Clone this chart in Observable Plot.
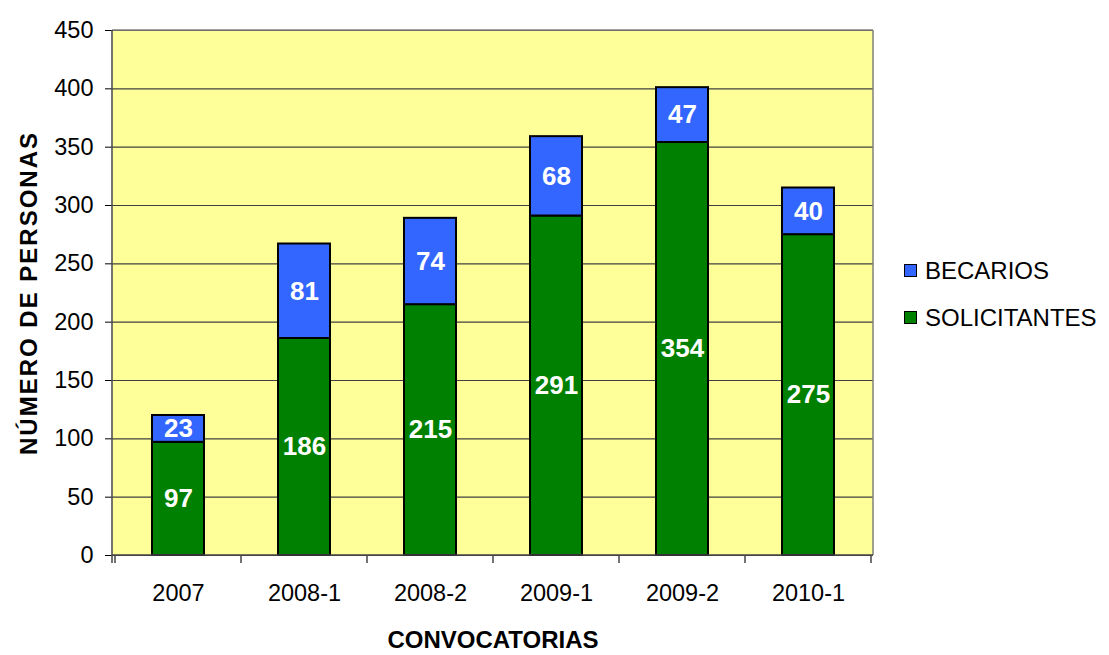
<!DOCTYPE html>
<html>
<head>
<meta charset="utf-8">
<script src="https://cdn.jsdelivr.net/npm/d3@7"></script>
<script src="https://cdn.jsdelivr.net/npm/@observablehq/plot@0.6"></script>
<style>
  body { margin: 0; background: #fff; font-family: "Liberation Sans", Arial, sans-serif; }
  #wrap { position: relative; width: 1109px; height: 655px; }
  #wrap svg g[aria-label^="x-axis"] text, #wrap svg g[aria-label^="y-axis"] text { font-size: 23.5px !important; fill: #000; }
  #legend { position: absolute; left: 904px; top: 247px; font-size: 24px; color: #000; }
  #legend div { display: flex; align-items: center; height: 47px; }
  #legend span.sw { display: inline-block; width: 11px; height: 11px; border: 1.5px solid #000; margin-right: 8px; }
</style>
</head>
<body>
<div id="wrap"><div id="legend"></div></div>
<script>
const categories = ["2007", "2008-1", "2008-2", "2009-1", "2009-2", "2010-1"];
const solicitantes = [97, 186, 215, 291, 354, 275];
const becarios = [23, 81, 74, 68, 47, 40];
const seriesNames = ["BECARIOS", "SOLICITANTES"];
const seriesColors = ["#3366FF", "#008000"];
const yTicks = [0, 50, 100, 150, 200, 250, 300, 350, 400, 450];
const yTitle = "NÚMERO DE PERSONAS";
const xTitle = "CONVOCATORIAS";

const rows = [];
categories.forEach((c, i) => rows.push({cat: c, series: "SOLICITANTES", value: solicitantes[i]}));
categories.forEach((c, i) => rows.push({cat: c, series: "BECARIOS", value: becarios[i]}));

function axesLines(index, scales, values, dimensions) {
  const {width, height, marginLeft, marginRight, marginTop, marginBottom} = dimensions;
  const x = scales.x;
  const g = d3.create("svg:g");
  const left = marginLeft, right = width - marginRight, top = marginTop, bottom = height - marginBottom;
  g.append("line").attr("x1", left).attr("x2", right).attr("y1", top).attr("y2", top).attr("stroke", "#808080").attr("stroke-width", 1.5);
  g.append("line").attr("x1", right).attr("x2", right).attr("y1", top).attr("y2", bottom).attr("stroke", "#808080").attr("stroke-width", 1.5);
  g.append("line").attr("x1", left).attr("x2", left).attr("y1", top).attr("y2", bottom + 8).attr("stroke", "#444").attr("stroke-width", 1.5);
  g.append("line").attr("x1", left).attr("x2", right).attr("y1", bottom).attr("y2", bottom).attr("stroke", "#444").attr("stroke-width", 1.5);
  const bw = x.bandwidth ? x.bandwidth() : (right - left) / categories.length;
  const edges = categories.map(c => x(c));
  edges.push(x(categories[categories.length - 1]) + bw);
  for (const e of edges) {
    g.append("line").attr("x1", e).attr("x2", e).attr("y1", bottom).attr("y2", bottom + 8).attr("stroke", "#444").attr("stroke-width", 1.5);
  }
  return g.node();
}

const chart = Plot.plot({
  width: 1109,
  height: 655,
  marginLeft: 112,
  marginRight: 236,
  marginTop: 30,
  marginBottom: 100,
  style: {fontSize: "24px", fontFamily: "'Liberation Sans', Arial, sans-serif", color: "#000", background: "#fff", overflow: "visible"},
  x: {type: "band", domain: categories, padding: 0, tickSize: 0, tickPadding: 29, label: null},
  y: {domain: [0, 450], ticks: yTicks, tickSize: 7, tickPadding: 12, label: null},
  color: {domain: seriesNames, range: seriesColors},
  marks: [
    Plot.frame({fill: "#FFFF99", stroke: "none"}),
    Plot.ruleY(yTicks, {stroke: "#404040", strokeWidth: 1.2}),
    Plot.barY(rows, Plot.stackY({x: "cat", y: "value", fill: "series", stroke: "#000", strokeWidth: 2, insetLeft: 37, insetRight: 37, order: ["SOLICITANTES", "BECARIOS"]})),
    Plot.text(rows, Plot.stackY({x: "cat", y: "value", z: "series", text: d => String(d.value), fill: "#fff", fontWeight: "bold", fontSize: 26, order: ["SOLICITANTES", "BECARIOS"]})),
    axesLines,
    Plot.text([yTitle], {frameAnchor: "left", textAnchor: "middle", dx: -83, rotate: -90, text: d => d, fontWeight: "bold", fontSize: 24, fill: "#000"}),
    Plot.text([xTitle], {frameAnchor: "bottom", textAnchor: "middle", dy: 92, text: d => d, fontWeight: "bold", fontSize: 24, fill: "#000"})
  ]
});
d3.select(chart).selectAll("text").filter(function() { return this.textContent === yTitle; }).style("letter-spacing", "2px");
document.getElementById("wrap").prepend(chart);

const legend = d3.select("#legend");
seriesNames.forEach((name, i) => {
  const row = legend.append("div");
  row.append("span").attr("class", "sw").style("background", seriesColors[i]);
  row.append("span").text(name);
});
</script>
</body>
</html>
